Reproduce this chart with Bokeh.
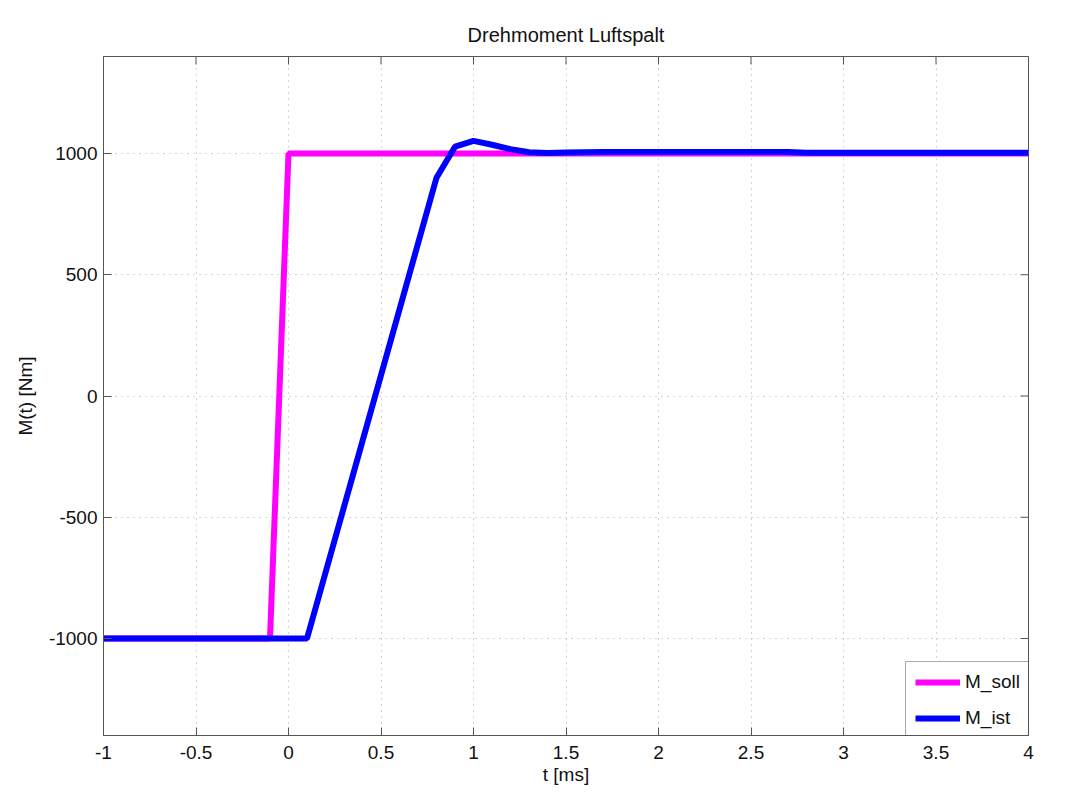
import math
from bokeh.plotting import figure
from bokeh.models import Legend, LegendItem, FixedTicker, Range1d
from bokeh.embed import file_html
from bokeh.resources import INLINE

t_soll = [-1.0, -0.1, 0.0, 4.0]
m_soll = [-1000, -1000, 1000, 1000]

t_ist = [-1.0, 0.1, 0.8, 0.9, 1.0, 1.1, 1.2, 1.3, 1.4, 1.5, 1.7, 2.7, 2.8, 4.0]
m_ist = [-1000, -1000, 900, 1028, 1052, 1036, 1018, 1005, 1002, 1004, 1006, 1006, 1003, 1003]

x_ticks = [-1, -0.5, 0, 0.5, 1, 1.5, 2, 2.5, 3, 3.5, 4]
x_labels = ["-1", "-0.5", "0", "0.5", "1", "1.5", "2", "2.5", "3", "3.5", "4"]
y_ticks = [-1000, -500, 0, 500, 1000]
y_labels = ["-1000", "-500", "0", "500", "1000"]

X_MIN, X_MAX = -1, 4
Y_MIN, Y_MAX = -1400, 1400

FONT = "Liberation Sans"
AX = "#555555"

p = figure(width=1071, height=795, output_backend="svg", toolbar_location=None,
           x_range=Range1d(X_MIN, X_MAX), y_range=Range1d(Y_MIN, Y_MAX),
           title="Drehmoment Luftspalt",
           min_border_left=103, min_border_right=43, min_border_top=56, min_border_bottom=60)
p.title.align = "center"
p.title.text_font = FONT
p.title.text_font_size = "20px"
p.title.text_font_style = "normal"
p.title.text_color = "#111111"
p.title.standoff = 22

p.outline_line_color = AX
p.outline_line_width = 1

for ax in (p.xaxis[0], p.yaxis[0]):
    ax.major_tick_in = 8
    ax.major_tick_out = 0
    ax.minor_tick_line_color = None
    ax.axis_line_color = AX
    ax.major_tick_line_color = AX
    ax.major_label_text_font = FONT
    ax.major_label_text_font_size = "19px"
    ax.major_label_text_color = "#111111"
    ax.axis_label_text_font = FONT
    ax.axis_label_text_font_size = "19px"
    ax.axis_label_text_font_style = "normal"
    ax.axis_label_text_color = "#111111"

p.xaxis[0].ticker = FixedTicker(ticks=x_ticks)
p.yaxis[0].ticker = FixedTicker(ticks=y_ticks)
p.xaxis[0].axis_label = "t [ms]"
p.yaxis[0].axis_label = "M(t) [Nm]"
p.xaxis[0].major_label_standoff = 10
p.xaxis[0].axis_label_standoff = 2
p.yaxis[0].major_label_standoff = 6
p.yaxis[0].axis_label_standoff = 10
p.xaxis[0].major_label_overrides = dict(zip(x_ticks, x_labels))
p.yaxis[0].major_label_overrides = dict(zip(y_ticks, y_labels))

p.grid.grid_line_color = "#aaaaaa"
p.grid.grid_line_dash = "1 5"
p.grid.grid_line_width = 1
p.xgrid.ticker = FixedTicker(ticks=x_ticks)
p.ygrid.ticker = FixedTicker(ticks=y_ticks)

# inward ticks on the top and right edges of the box (half of each 16px dash falls inside the frame)
p.scatter(x=x_ticks, y=[Y_MAX] * len(x_ticks), marker="dash", angle=math.pi / 2,
          size=16, line_color=AX, line_width=1)
p.scatter(x=[X_MAX] * len(y_ticks), y=y_ticks, marker="dash",
          size=16, line_color=AX, line_width=1)

r1 = p.line(t_soll, m_soll, line_color="#FF00FF", line_width=6)
r2 = p.line(t_ist, m_ist, line_color="#0000FF", line_width=6)

legend = Legend(items=[LegendItem(label="M_soll", renderers=[r1]),
                       LegendItem(label="M_ist", renderers=[r2])],
                location=(802, -4), orientation="vertical",
                glyph_width=45, glyph_height=22, label_height=22,
                label_standoff=5, padding=9, spacing=14, margin=0,
                label_text_font=FONT, label_text_font_size="19px", label_text_color="#111111",
                border_line_color=AX, border_line_width=1,
                background_fill_color="white", background_fill_alpha=1.0)
p.add_layout(legend, "center")

open("out.html", "w").write(file_html(p, INLINE))
